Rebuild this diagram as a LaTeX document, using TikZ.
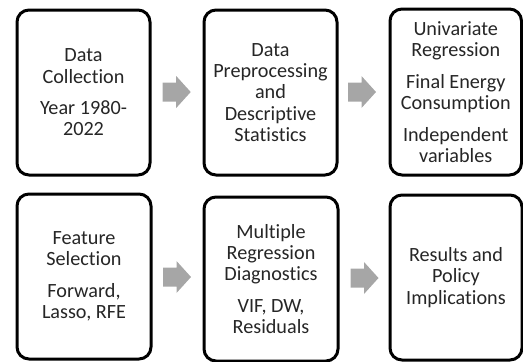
\documentclass[tikz,border=0pt]{standalone}
\usepackage{fontspec}
\setmainfont{Carlito}[Ligatures=NoCommon]
\usepackage{tikz}
\usetikzlibrary{positioning}
\definecolor{arrowgray}{RGB}{166,166,166}
\definecolor{textgray}{RGB}{38,38,38}

\begin{document}
\begin{tikzpicture}[x=1pt,y=-1pt,
		stepbox/.style={draw=black, line width=3pt, rounded corners=12pt, fill=white, align=center, inner sep=0pt, text=textgray, font=\fontsize{20.2}{21.2}\selectfont},
		blockarrow/.style={fill=arrowgray}]
		\useasboundingbox (0,0) rectangle (523,362);
		% top row
		\node[stepbox, minimum width=133pt, minimum height=165pt] (collect) at (83.5,92.5) {Data\\Collection\\[10.5pt]Year 1980-\\2022};
		\node[stepbox, minimum width=133pt, minimum height=165pt] (prep) at (270.5,92.5) {Data\\Preprocessing\\and\\Descriptive\\Statistics};
		\node[stepbox, minimum width=131.5pt, minimum height=166pt] (univ) at (455.75,92) {Univariate\\Regression\\[10.5pt]Final Energy\\Consumption\\[10.5pt]Independent\\variables};
		% bottom row
		\node[stepbox, minimum width=134pt, minimum height=165pt] (feat) at (84,276.5) {Feature\\Selection\\[10.5pt]Forward,\\Lasso, RFE};
		\node[stepbox, minimum width=134pt, minimum height=164pt] (multi) at (271,279) {Multiple\\Regression\\Diagnostics\\[10.5pt]VIF, DW,\\Residuals};
		\node[stepbox, minimum width=132pt, minimum height=165pt] (result) at (456,277.5) {Results and\\Policy\\Implications};
		% block arrows
		\foreach \x/\y in {162.7/92, 348/92, 163/277, 350.5/278}
			\fill[blockarrow] (\x,\y) ++(0,-9.5) -- ++(13.5,0) -- ++(0,-6.5) -- ++(14.5,16) -- ++(-14.5,16) -- ++(0,-6.5) -- ++(-13.5,0) -- cycle;
\end{tikzpicture}
\end{document}
